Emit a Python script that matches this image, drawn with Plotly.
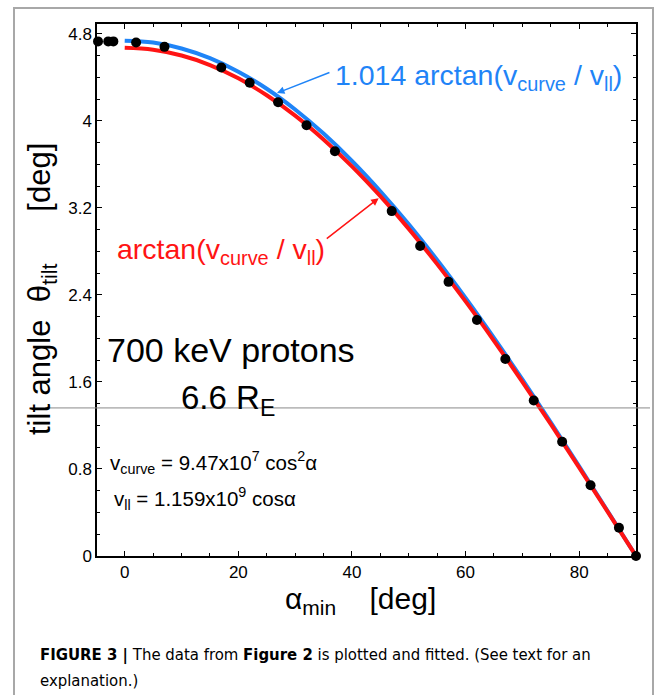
import plotly.graph_objects as go

# ---- data ----
alpha_pts = [-4.7, -2.9, -2.0, 2, 7, 17, 22, 27, 32, 37, 47, 52, 57, 62, 67, 72, 77, 82, 87, 90]
theta_pts = [4.73, 4.73, 4.73, 4.72, 4.68, 4.49, 4.35, 4.17, 3.96, 3.72, 3.17, 2.85, 2.52, 2.17,
             1.81, 1.43, 1.05, 0.65, 0.26, 0.0]

alpha_fit = [0, 5, 10, 15, 20, 25, 30, 35, 40, 45, 50, 55, 60, 65, 70, 75, 80, 85, 90]
theta_red = [4.671, 4.653, 4.600, 4.513, 4.391, 4.235, 4.048, 3.829, 3.582, 3.307, 3.007,
             2.683, 2.340, 1.978, 1.601, 1.212, 0.813, 0.408, 0.0]
theta_blue = [4.736, 4.719, 4.665, 4.576, 4.452, 4.295, 4.104, 3.883, 3.632, 3.353, 3.049,
              2.721, 2.372, 2.005, 1.623, 1.228, 0.824, 0.414, 0.0]

x_ticks = [0, 20, 40, 60, 80]
y_ticks = [0, 0.8, 1.6, 2.4, 3.2, 4, 4.8]
y_tick_text = ["0", "0.8", "1.6", "2.4", "3.2", "4", "4.8"]

BLUE = "#1f84f7"
RED = "#ff1414"
FONT = "Liberation Sans, Arial, Helvetica, sans-serif"

fig = go.Figure()
fig.add_trace(go.Scatter(x=alpha_fit, y=theta_blue, mode="lines", line=dict(color=BLUE, width=4, shape="spline"),
                         showlegend=False, hoverinfo="skip"))
fig.add_trace(go.Scatter(x=alpha_fit, y=theta_red, mode="lines", line=dict(color=RED, width=4, shape="spline"),
                         showlegend=False, hoverinfo="skip"))
fig.add_trace(go.Scatter(x=alpha_pts, y=theta_pts, mode="markers", marker=dict(color="black", size=10),
                         cliponaxis=False, showlegend=False))

W, H = 665, 695
L, R, T, B = 97, 29, 24, 139
pw, ph = W - L - R, H - T - B


def px(xp):
    return (xp - L) / pw


def py(yp):
    return (H - B - yp) / ph


fig.update_layout(
    width=W, height=H,
    margin=dict(l=L, r=R, t=T, b=B),
    paper_bgcolor="white", plot_bgcolor="white",
    font=dict(family=FONT, color="black"),
    xaxis=dict(range=[-4.88, 90], tickmode="array", tickvals=x_ticks, ticks="inside", ticklen=5,
               tickwidth=1, tickcolor="black", showline=True, linecolor="black", linewidth=1.5,
               mirror="ticks", showgrid=False, zeroline=False, tickfont=dict(size=17),
               minor=dict(dtick=5, tick0=0, ticks="inside", ticklen=3.5, tickcolor="black", showgrid=False)),
    yaxis=dict(range=[0, 4.89], tickmode="array", tickvals=y_ticks, ticktext=y_tick_text, ticks="inside",
               ticklen=5, tickwidth=1, tickcolor="black", showline=True, linecolor="black", linewidth=1.5,
               mirror="ticks", showgrid=False, zeroline=False, tickfont=dict(size=17),
               minor=dict(dtick=0.2, tick0=0, ticks="inside", ticklen=3.5, tickcolor="black", showgrid=False)),
)

shapes = [
    # outer frame
    dict(type="path", xref="paper", yref="paper",
         path=f"M {px(14)},{py(700)} L {px(14)},{py(8)} L {px(653)},{py(8)} L {px(653)},{py(700)}",
         line=dict(color="#a8a8a8", width=2)),
    # thin stray horizontal line
    dict(type="line", xref="paper", yref="y", x0=px(45), x1=px(650), y0=1.361, y1=1.361,
         line=dict(color="#8a8a8a", width=1)),
]
fig.update_layout(shapes=shapes)

ann = []
# arrows
ann.append(dict(x=26.8, y=4.255, ax=36.3, ay=4.449, axref="x", ayref="y", xref="x", yref="y", text="",
                showarrow=True, arrowhead=2, arrowsize=1, arrowwidth=1.5, arrowcolor=BLUE, standoff=0))
ann.append(dict(x=44.7, y=3.289, ax=35.3, ay=2.906, axref="x", ayref="y", xref="x", yref="y", text="",
                showarrow=True, arrowhead=2, arrowsize=1, arrowwidth=1.5, arrowcolor=RED, standoff=0))
# curve labels
ann.append(dict(x=36.6, y=4.40, xref="x", yref="y", xanchor="left", yanchor="middle", showarrow=False,
                text="1.014 arctan(v<sub>curve</sub> / v<sub>ll</sub>)", font=dict(size=28.5, color=BLUE)))
ann.append(dict(x=-1.75, y=2.80, xref="x", yref="y", xanchor="left", yanchor="middle", showarrow=False,
                text="arctan(v<sub>curve</sub> / v<sub>ll</sub>)", font=dict(size=28.5, color=RED)))
# info texts
ann.append(dict(x=-3.5, y=1.894, xref="x", yref="y", xanchor="left", yanchor="middle", showarrow=False,
                text="700 keV protons", font=dict(size=34)))
ann.append(dict(x=9.6, y=1.434, xref="x", yref="y", xanchor="left", yanchor="middle", showarrow=False,
                text="6.6 R<sub>E</sub>", font=dict(size=33)))
ann.append(dict(x=-2.9, y=0.855, xref="x", yref="y", xanchor="left", yanchor="middle", showarrow=False,
                text="v<sub>curve</sub> = 9.47x10<sup>7</sup> cos<sup>2</sup>α", font=dict(size=20.5)))
ann.append(dict(x=-2.2, y=0.53, xref="x", yref="y", xanchor="left", yanchor="middle", showarrow=False,
                text="v<sub>ll</sub> = 1.159x10<sup>9</sup> cosα", font=dict(size=20.5)))
# axis titles
ann.append(dict(x=px(360), y=py(600), xref="paper", yref="paper", xanchor="center", yanchor="middle",
                showarrow=False, text="α<sub>min</sub>    [deg]", font=dict(size=30)))
ann.append(dict(x=px(42), y=py(289), xref="paper", yref="paper", xanchor="center", yanchor="middle",
                showarrow=False, textangle=-90,
                text="tilt angle  θ<sub>tilt</sub>      [deg]", font=dict(size=31)))
# caption
CAP = "Liberation Sans Narrow, Arial Narrow, DejaVu Sans Condensed, Liberation Sans, Arial, sans-serif"
ann.append(dict(x=px(38), y=py(655), xref="paper", yref="paper", xanchor="left", yanchor="middle",
                showarrow=False, align="left",
                text="<b>FIGURE 3 |</b> The data from <b>Figure 2</b> is plotted and fitted. (See text for an",
                font=dict(size=16.6, family=CAP)))
ann.append(dict(x=px(38), y=py(681), xref="paper", yref="paper", xanchor="left", yanchor="middle",
                showarrow=False, align="left", text="explanation.)", font=dict(size=16.6, family=CAP)))
fig.update_layout(annotations=ann)

fig.write_html("out.html")
